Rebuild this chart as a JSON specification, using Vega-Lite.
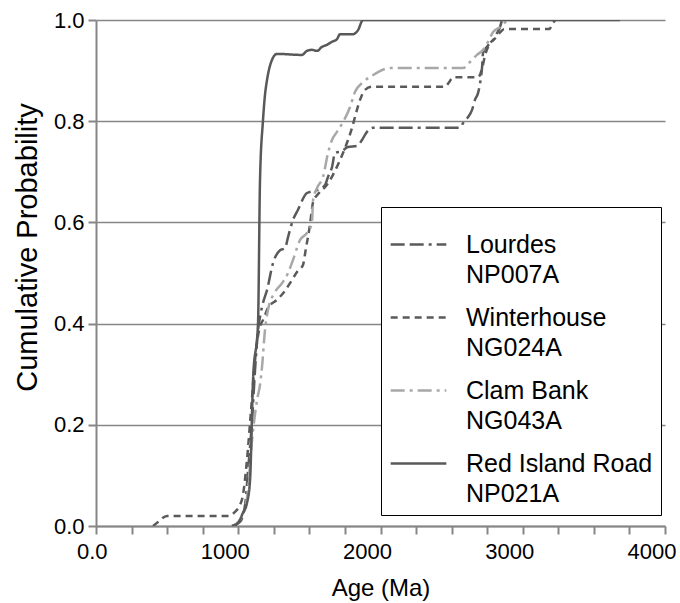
{
 "$schema": "https://vega.github.io/schema/vega-lite/v6.json",
 "width": 569, "height": 506,
 "autosize": {"type": "none"},
 "padding": {"left": 96, "top": 20, "right": 15, "bottom": 77},
 "background": "white",
 "config": {"view": {"stroke": null}, "font": "Liberation Sans"},
 "datasets": {
  "cdf": [
   {"site":"Lourdes|NP007A","age":956,"p":0},{"site":"Lourdes|NP007A","age":1012,"p":0.008},{"site":"Lourdes|NP007A","age":1048,"p":0.042},{"site":"Lourdes|NP007A","age":1069,"p":0.111},{"site":"Lourdes|NP007A","age":1097,"p":0.209},{"site":"Lourdes|NP007A","age":1118,"p":0.308},{"site":"Lourdes|NP007A","age":1139,"p":0.387},{"site":"Lourdes|NP007A","age":1153,"p":0.413},{"site":"Lourdes|NP007A","age":1174,"p":0.441},{"site":"Lourdes|NP007A","age":1202,"p":0.466},{"site":"Lourdes|NP007A","age":1245,"p":0.52},{"site":"Lourdes|NP007A","age":1294,"p":0.545},{"site":"Lourdes|NP007A","age":1329,"p":0.549},{"site":"Lourdes|NP007A","age":1350,"p":0.571},{"site":"Lourdes|NP007A","age":1385,"p":0.605},{"site":"Lourdes|NP007A","age":1420,"p":0.625},{"site":"Lourdes|NP007A","age":1483,"p":0.658},{"site":"Lourdes|NP007A","age":1554,"p":0.664},{"site":"Lourdes|NP007A","age":1610,"p":0.674},{"site":"Lourdes|NP007A","age":1631,"p":0.69},{"site":"Lourdes|NP007A","age":1659,"p":0.709},{"site":"Lourdes|NP007A","age":1680,"p":0.737},{"site":"Lourdes|NP007A","age":1729,"p":0.741},{"site":"Lourdes|NP007A","age":1771,"p":0.749},{"site":"Lourdes|NP007A","age":1835,"p":0.751},{"site":"Lourdes|NP007A","age":1870,"p":0.763},{"site":"Lourdes|NP007A","age":1905,"p":0.779},{"site":"Lourdes|NP007A","age":1947,"p":0.787},{"site":"Lourdes|NP007A","age":2559,"p":0.787},{"site":"Lourdes|NP007A","age":2580,"p":0.796},{"site":"Lourdes|NP007A","age":2615,"p":0.808},{"site":"Lourdes|NP007A","age":2643,"p":0.822},{"site":"Lourdes|NP007A","age":2664,"p":0.842},{"site":"Lourdes|NP007A","age":2686,"p":0.856},{"site":"Lourdes|NP007A","age":2700,"p":0.875},{"site":"Lourdes|NP007A","age":2714,"p":0.907},{"site":"Lourdes|NP007A","age":2721,"p":0.935},{"site":"Lourdes|NP007A","age":2749,"p":0.947},{"site":"Lourdes|NP007A","age":2770,"p":0.955},{"site":"Lourdes|NP007A","age":2791,"p":0.96},{"site":"Lourdes|NP007A","age":2819,"p":0.974},{"site":"Lourdes|NP007A","age":2840,"p":0.986},{"site":"Lourdes|NP007A","age":2854,"p":1},
   {"site":"Winterhouse|NG024A","age":401,"p":0},{"site":"Winterhouse|NG024A","age":436,"p":0.008},{"site":"Winterhouse|NG024A","age":499,"p":0.02},{"site":"Winterhouse|NG024A","age":928,"p":0.02},{"site":"Winterhouse|NG024A","age":977,"p":0.028},{"site":"Winterhouse|NG024A","age":1005,"p":0.038},{"site":"Winterhouse|NG024A","age":1033,"p":0.061},{"site":"Winterhouse|NG024A","age":1061,"p":0.13},{"site":"Winterhouse|NG024A","age":1090,"p":0.229},{"site":"Winterhouse|NG024A","age":1118,"p":0.328},{"site":"Winterhouse|NG024A","age":1146,"p":0.387},{"site":"Winterhouse|NG024A","age":1181,"p":0.411},{"site":"Winterhouse|NG024A","age":1209,"p":0.431},{"site":"Winterhouse|NG024A","age":1272,"p":0.447},{"site":"Winterhouse|NG024A","age":1315,"p":0.46},{"site":"Winterhouse|NG024A","age":1364,"p":0.48},{"site":"Winterhouse|NG024A","age":1413,"p":0.502},{"site":"Winterhouse|NG024A","age":1455,"p":0.516},{"site":"Winterhouse|NG024A","age":1476,"p":0.549},{"site":"Winterhouse|NG024A","age":1504,"p":0.595},{"site":"Winterhouse|NG024A","age":1526,"p":0.64},{"site":"Winterhouse|NG024A","age":1561,"p":0.656},{"site":"Winterhouse|NG024A","age":1617,"p":0.672},{"site":"Winterhouse|NG024A","age":1666,"p":0.694},{"site":"Winterhouse|NG024A","age":1715,"p":0.723},{"site":"Winterhouse|NG024A","age":1764,"p":0.757},{"site":"Winterhouse|NG024A","age":1800,"p":0.787},{"site":"Winterhouse|NG024A","age":1828,"p":0.816},{"site":"Winterhouse|NG024A","age":1856,"p":0.842},{"site":"Winterhouse|NG024A","age":1891,"p":0.862},{"site":"Winterhouse|NG024A","age":1940,"p":0.868},{"site":"Winterhouse|NG024A","age":2453,"p":0.868},{"site":"Winterhouse|NG024A","age":2482,"p":0.877},{"site":"Winterhouse|NG024A","age":2510,"p":0.887},{"site":"Winterhouse|NG024A","age":2686,"p":0.887},{"site":"Winterhouse|NG024A","age":2715,"p":0.905},{"site":"Winterhouse|NG024A","age":2736,"p":0.931},{"site":"Winterhouse|NG024A","age":2764,"p":0.951},{"site":"Winterhouse|NG024A","age":2807,"p":0.964},{"site":"Winterhouse|NG024A","age":2842,"p":0.976},{"site":"Winterhouse|NG024A","age":2870,"p":0.982},{"site":"Winterhouse|NG024A","age":3187,"p":0.982},{"site":"Winterhouse|NG024A","age":3208,"p":0.992},{"site":"Winterhouse|NG024A","age":3229,"p":1},
   {"site":"Clam Bank|NG043A","age":956,"p":0},{"site":"Clam Bank|NG043A","age":1012,"p":0.012},{"site":"Clam Bank|NG043A","age":1061,"p":0.055},{"site":"Clam Bank|NG043A","age":1097,"p":0.17},{"site":"Clam Bank|NG043A","age":1132,"p":0.249},{"site":"Clam Bank|NG043A","age":1153,"p":0.279},{"site":"Clam Bank|NG043A","age":1167,"p":0.314},{"site":"Clam Bank|NG043A","age":1188,"p":0.387},{"site":"Clam Bank|NG043A","age":1209,"p":0.427},{"site":"Clam Bank|NG043A","age":1258,"p":0.462},{"site":"Clam Bank|NG043A","age":1308,"p":0.48},{"site":"Clam Bank|NG043A","age":1350,"p":0.5},{"site":"Clam Bank|NG043A","age":1385,"p":0.526},{"site":"Clam Bank|NG043A","age":1434,"p":0.565},{"site":"Clam Bank|NG043A","age":1483,"p":0.579},{"site":"Clam Bank|NG043A","age":1518,"p":0.599},{"site":"Clam Bank|NG043A","age":1526,"p":0.644},{"site":"Clam Bank|NG043A","age":1554,"p":0.668},{"site":"Clam Bank|NG043A","age":1596,"p":0.69},{"site":"Clam Bank|NG043A","age":1631,"p":0.737},{"site":"Clam Bank|NG043A","age":1659,"p":0.763},{"site":"Clam Bank|NG043A","age":1694,"p":0.779},{"site":"Clam Bank|NG043A","age":1736,"p":0.798},{"site":"Clam Bank|NG043A","age":1786,"p":0.828},{"site":"Clam Bank|NG043A","age":1821,"p":0.858},{"site":"Clam Bank|NG043A","age":1877,"p":0.877},{"site":"Clam Bank|NG043A","age":1947,"p":0.891},{"site":"Clam Bank|NG043A","age":1996,"p":0.899},{"site":"Clam Bank|NG043A","age":2067,"p":0.905},{"site":"Clam Bank|NG043A","age":2580,"p":0.905},{"site":"Clam Bank|NG043A","age":2629,"p":0.917},{"site":"Clam Bank|NG043A","age":2678,"p":0.931},{"site":"Clam Bank|NG043A","age":2721,"p":0.941},{"site":"Clam Bank|NG043A","age":2756,"p":0.957},{"site":"Clam Bank|NG043A","age":2791,"p":0.976},{"site":"Clam Bank|NG043A","age":2840,"p":0.986},{"site":"Clam Bank|NG043A","age":2889,"p":0.998},{"site":"Clam Bank|NG043A","age":2910,"p":1},
   {"site":"Red Island Road|NP021A","age":956,"p":0},{"site":"Red Island Road|NP021A","age":998,"p":0.006},{"site":"Red Island Road|NP021A","age":1033,"p":0.026},{"site":"Red Island Road|NP021A","age":1061,"p":0.045},{"site":"Red Island Road|NP021A","age":1083,"p":0.091},{"site":"Red Island Road|NP021A","age":1104,"p":0.289},{"site":"Red Island Road|NP021A","age":1139,"p":0.401},{"site":"Red Island Road|NP021A","age":1153,"p":0.684},{"site":"Red Island Road|NP021A","age":1174,"p":0.802},{"site":"Red Island Road|NP021A","age":1188,"p":0.852},{"site":"Red Island Road|NP021A","age":1202,"p":0.881},{"site":"Red Island Road|NP021A","age":1237,"p":0.921},{"site":"Red Island Road|NP021A","age":1272,"p":0.933},{"site":"Red Island Road|NP021A","age":1448,"p":0.931},{"site":"Red Island Road|NP021A","age":1483,"p":0.939},{"site":"Red Island Road|NP021A","age":1518,"p":0.941},{"site":"Red Island Road|NP021A","age":1554,"p":0.939},{"site":"Red Island Road|NP021A","age":1589,"p":0.947},{"site":"Red Island Road|NP021A","age":1624,"p":0.951},{"site":"Red Island Road|NP021A","age":1659,"p":0.957},{"site":"Red Island Road|NP021A","age":1694,"p":0.962},{"site":"Red Island Road|NP021A","age":1715,"p":0.972},{"site":"Red Island Road|NP021A","age":1807,"p":0.972},{"site":"Red Island Road|NP021A","age":1842,"p":0.98},{"site":"Red Island Road|NP021A","age":1877,"p":1},{"site":"Red Island Road|NP021A","age":3684,"p":1}
  ]
 },
 "data": {"name": "cdf"},
 "mark": {"type": "line", "strokeWidth": 2.5, "interpolate": "monotone", "clip": true},
 "encoding": {
  "x": {"field": "age", "type": "quantitative", "scale": {"domain": [0, 4000], "nice": false, "zero": false},
   "axis": {"title": "Age (Ma)", "values": [0,250,500,750,1000,1250,1500,1750,2000,2250,2500,2750,3000,3250,3500,3750,4000],
    "labelExpr": "datum.value % 1000 == 0 ? (datum.value == 0 ? '0.0' : '' + datum.value) : ''",
    "labelAlign": "right", "labelOffset": 11, "labelFlush": false, "labelFontSize": 22, "labelColor": "#000", "labelFont": "Liberation Sans", "labelPadding": 7,
    "grid": false, "domainColor": "#868686", "domainWidth": 2, "tickColor": "#868686", "tickWidth": 2, "tickSize": 8,
    "titleFontSize": 24, "titleFontWeight": "normal", "titleColor": "#000", "titleFont": "Liberation Sans", "titlePadding": 14, "labelOverlap": false}},
  "y": {"field": "p", "type": "quantitative", "scale": {"domain": [0, 1], "nice": false},
   "axis": {"title": "Cumulative Probability", "values": [0,0.2,0.4,0.6,0.8,1.0], "format": ".1f",
    "labelFontSize": 22, "labelColor": "#000", "labelFont": "Liberation Sans", "labelPadding": 4,
    "grid": true, "gridColor": "#868686", "gridWidth": 1.5, "domainColor": "#868686", "domainWidth": 2, "tickColor": "#868686", "tickWidth": 2, "tickSize": 8,
    "titleFontSize": 29, "titleFontWeight": "normal", "titleColor": "#000", "titleFont": "Liberation Sans", "titlePadding": 11, "titleY": 227}},
  "color": {"field": "site", "type": "nominal",
   "scale": {"domain": ["Lourdes|NP007A","Winterhouse|NG024A","Clam Bank|NG043A","Red Island Road|NP021A"], "range": ["#5a5a5a","#5a5a5a","#a8a8a8","#595959"]},
   "legend": {"title": null, "orient": "none", "legendX": 285, "legendY": 187, "strokeColor": "#000", "fillColor": "white", "padding": 8,
    "symbolType": "stroke", "symbolSize": 3100, "symbolStrokeWidth": 2.5, "labelFontSize": 25, "labelFont": "Liberation Sans", "labelColor": "#000",
    "labelLimit": 300, "labelOffset": 18, "rowPadding": 0, "labelExpr": "split(datum.label, '|')",
    "encode": {"labels": {"update": {"lineHeight": {"value": 30}}}}}},
  "strokeDash": {"field": "site", "type": "nominal",
   "scale": {"domain": ["Lourdes|NP007A","Winterhouse|NG024A","Clam Bank|NG043A","Red Island Road|NP021A"], "range": [[14,5,14,5,3,5],[7,5],[14,5,3,5],[1,0]]},
   "legend": {"title": null, "orient": "none", "legendX": 285, "legendY": 187, "strokeColor": "#000", "fillColor": "white", "padding": 8,
    "symbolType": "stroke", "symbolSize": 3100, "symbolStrokeWidth": 2.5, "labelFontSize": 25, "labelFont": "Liberation Sans", "labelColor": "#000",
    "labelLimit": 300, "labelOffset": 18, "rowPadding": 0, "labelExpr": "split(datum.label, '|')",
    "encode": {"labels": {"update": {"lineHeight": {"value": 30}}}}}}
 }
}
